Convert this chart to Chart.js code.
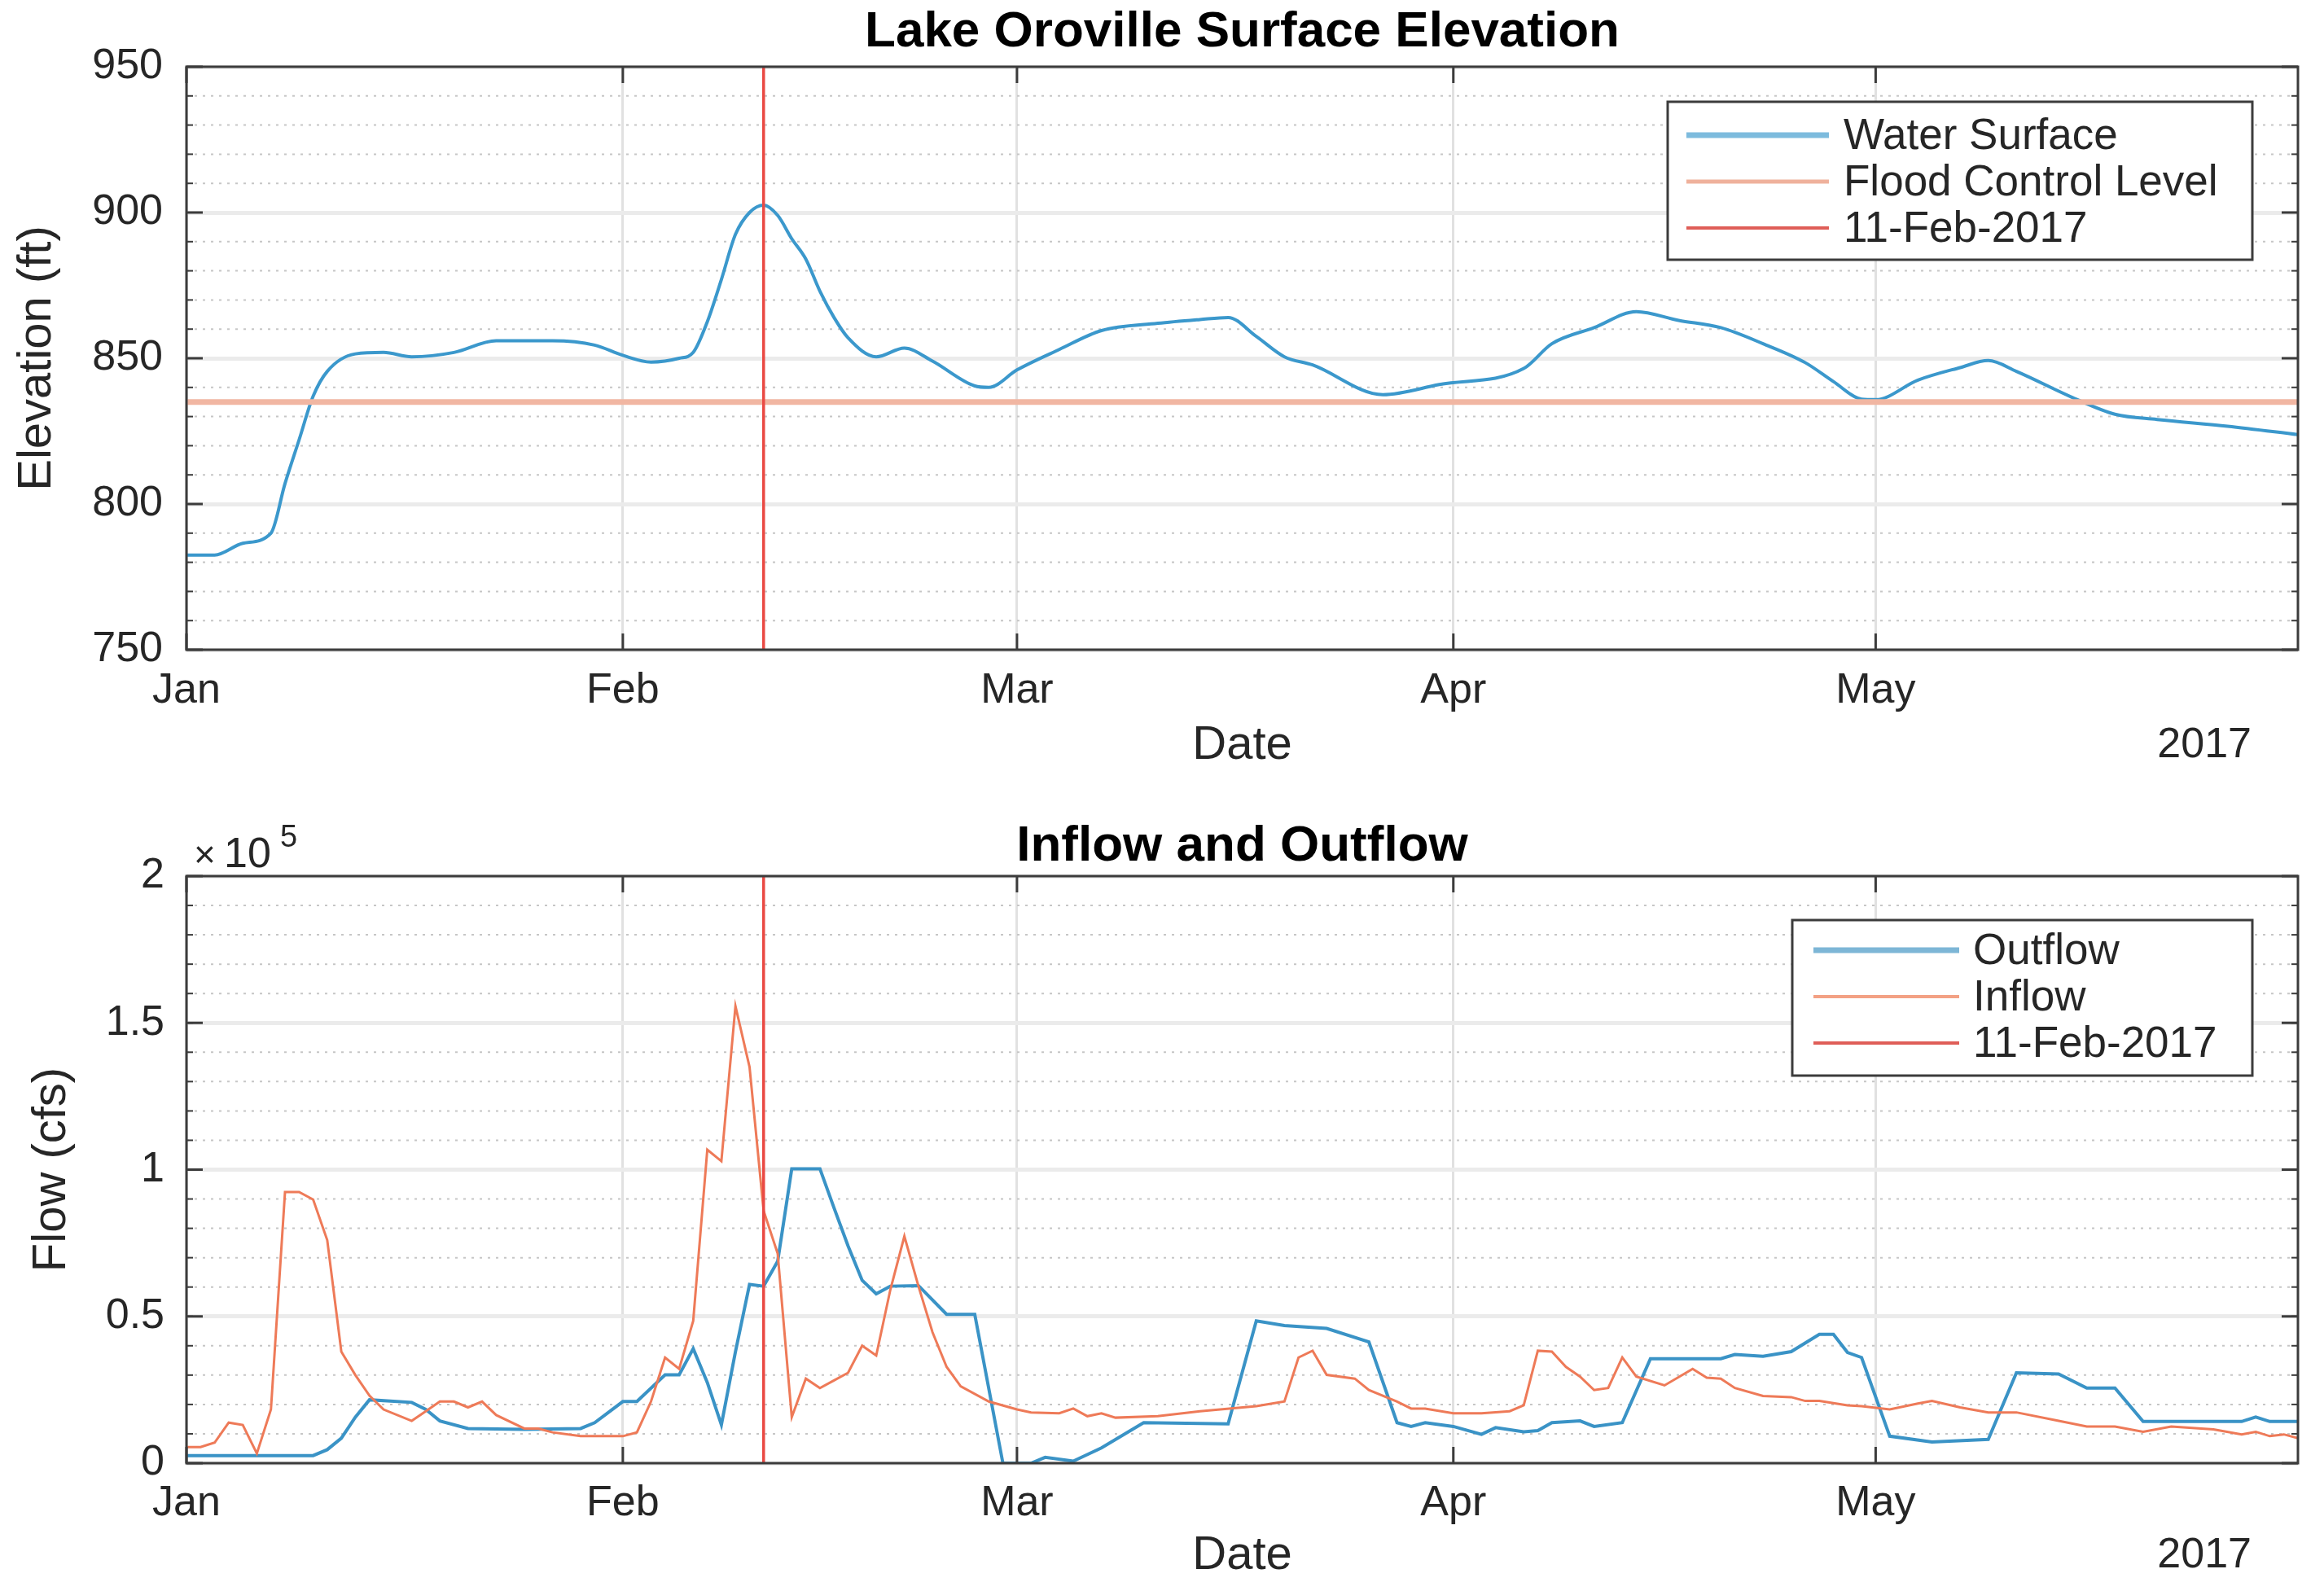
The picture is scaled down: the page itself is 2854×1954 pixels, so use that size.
<!DOCTYPE html>
<html>
<head>
<meta charset="utf-8">
<title>Lake Oroville Surface Elevation</title>
<script src="https://cdn.jsdelivr.net/npm/chart.js@4.4.1/dist/chart.umd.min.js"></script>
<style>
  html, body { margin: 0; padding: 0; background: #fff; }
  #wrap { position: relative; width: 2854px; height: 1954px; }
  canvas { position: absolute; left: 0; display: block; width: 2854px; height: 977px; }
  #elevChart { top: 0; }
  #flowChart { top: 977px; }
</style>
</head>
<body>
<div id="wrap">
  <canvas id="elevChart" width="2854" height="977"></canvas>
  <canvas id="flowChart" width="2854" height="977"></canvas>
</div>
<script>
// x values are days since 1 Jan 2017
const monthDays = [0, 31, 59, 90, 120];
const monthLabels = ['Jan', 'Feb', 'Mar', 'Apr', 'May'];
const elevTicks = [750, 800, 850, 900, 950];
const flowTicks = [0, 50000, 100000, 150000, 200000];
const flowTickLabels = ['0', '0.5', '1', '1.5', '2'];

const floodLevel = 835;
const eventDay = 41; // 11-Feb-2017

const elevDays = [0, 2, 4, 6, 7, 8, 9, 10, 12, 14, 16, 19, 22, 26, 29, 31, 33, 35, 36, 37,
  38, 39, 40, 41, 42, 43, 44, 45, 46, 47, 49, 51, 53, 56, 57, 59, 62, 65, 69, 72,
  74, 76, 78, 80, 85, 89, 95, 97, 100, 103, 106, 109, 112, 115, 117, 119, 120, 123, 126, 128,
  130, 134, 137, 140, 145, 150];
const elevValues = [782.5, 782.5, 786.5, 790, 807, 822, 837, 845.5, 851.5, 852, 850.5, 852, 856, 856, 854.5, 851, 848.7, 850, 852, 862.5,
  877, 892.5, 900, 902.5, 899, 891, 884, 873, 864, 857, 850.5, 853.5, 849, 840.5, 840, 846, 853, 859.5, 862, 863.3,
  864, 857.5, 850.5, 847.7, 837.5, 841, 846.5, 855, 860.5, 866, 863, 860.5, 855, 848.5, 842, 836, 835.8, 842.5, 846.8, 849.2,
  845.5, 836.5, 830.8, 829, 826.7, 823.8];

const inflowDays = [0, 1, 2, 3, 4, 5, 6, 7, 8, 9, 10, 11, 12, 13, 14, 16, 17, 18, 19, 20,
  21, 22, 24, 25, 26, 28, 31, 32, 33, 34, 35, 36, 37, 38, 39, 40, 41, 42, 43, 44,
  45, 46, 47, 48, 49, 50, 51, 52, 53, 54, 55, 57, 59, 60, 62, 63, 64, 65, 66, 69,
  72, 76, 78, 79, 80, 81, 83, 84, 86, 87, 88, 90, 92, 94, 95, 96, 97, 98, 99, 100,
  101, 102, 103, 105, 107, 108, 109, 110, 112, 114, 115, 116, 118, 119, 121, 123, 124, 126, 128, 130,
  133, 135, 137, 139, 141, 144, 146, 147, 148, 149, 150];
const inflowValues = [5500, 5500, 7000, 13800, 13000, 3300, 18300, 92400, 92400, 89800, 76000, 38000, 30000, 23000, 18300, 14400, 17700, 21000, 21000, 19000,
  21000, 16400, 11800, 11800, 10500, 9200, 9200, 10500, 21000, 36000, 32100, 48500, 106800, 102900, 155700, 135000, 86000, 71400, 15700, 28800,
  25600, 28200, 30800, 40000, 36700, 59000, 77300, 60300, 44600, 32800, 26200, 21000, 18300, 17300, 17000, 18600, 16000, 17000, 15500, 16000,
  17700, 19400, 21000, 36000, 38300, 30100, 28800, 24900, 21000, 18600, 18600, 17000, 17000, 17700, 19700, 38300, 38000, 32800, 29500, 24900,
  25600, 36000, 29500, 26500, 32100, 29100, 28800, 25600, 22900, 22500, 21200, 21200, 19700, 19400, 18300, 20300, 21200, 19000, 17300, 17300,
  14400, 12500, 12500, 10700, 12500, 11500, 9800, 10700, 9200, 9800, 8500];

const outflowDays = [0, 9, 10, 11, 12, 13, 16, 17, 18, 20, 24, 28, 29, 31, 32, 34, 35, 36, 37, 38,
  39, 40, 41, 42, 43, 45, 46, 47, 48, 49, 50, 52, 54, 56, 58, 60, 61, 63, 65, 68,
  74, 76, 78, 81, 84, 86, 87, 88, 90, 92, 93, 95, 96, 97, 99, 100, 102, 104, 109, 110,
  112, 114, 116, 117, 118, 119, 121, 124, 128, 130, 133, 135, 137, 139, 146, 147, 148, 150];
const outflowValues = [2600, 2600, 4600, 8500, 15700, 21600, 20700, 18300, 14400, 11800, 11500, 11800, 13800, 21000, 21000, 30100, 30100, 39000, 27500, 13100,
  38000, 60900, 60300, 68800, 100300, 100300, 87000, 74000, 62300, 57700, 60300, 60500, 50700, 50700, 0, 0, 2000, 700, 5200, 13800,
  13400, 48500, 46900, 45900, 41300, 13800, 12500, 13800, 12500, 9800, 12100, 10700, 11100, 13800, 14400, 12500, 13800, 35600, 35600, 37000,
  36400, 38000, 43900, 43900, 37700, 36000, 9200, 7200, 8100, 30800, 30400, 25600, 25600, 14200, 14200, 15700, 14200, 14200];

const FONT = "'Liberation Sans', Arial, Helvetica, sans-serif";
const INK = '#262626';
const AXIS = '#3c3c3c';

Chart.defaults.font.family = FONT;
Chart.defaults.color = INK;

function pts(days, values) {
  return days.map((d, i) => ({ x: d, y: values[i] }));
}

function line(ctx, x1, y1, x2, y2) {
  ctx.beginPath();
  ctx.moveTo(x1, y1);
  ctx.lineTo(x2, y2);
  ctx.stroke();
}

// MATLAB-ish axes: dotted minor grid, boxed axes with inward ticks, legend inside
const matlabAxes = {
  id: 'matlabAxes',
  beforeDatasetsDraw(chart, args, o) {
    const { ctx, chartArea: a } = chart;
    const y = chart.scales.y;
    const n = Math.round((y.max - y.min) / o.minorStep);
    const every = Math.round(o.majorStep / o.minorStep);
    ctx.save();
    ctx.strokeStyle = '#c6c6c6';
    ctx.lineWidth = 2;
    ctx.setLineDash([3, 7]);
    for (let i = 1; i < n; i++) {
      if (i % every === 0) continue;
      const py = y.getPixelForValue(y.min + i * o.minorStep);
      line(ctx, a.left, py, a.right, py);
    }
    ctx.restore();
  },
  afterDatasetsDraw(chart, args, o) {
    const { ctx, chartArea: a } = chart;
    const { x, y } = chart.scales;
    ctx.save();
    ctx.strokeStyle = AXIS;
    ctx.lineWidth = 3;
    ctx.strokeRect(a.left, a.top, a.right - a.left, a.bottom - a.top);
    x.ticks.forEach(t => {
      const px = x.getPixelForValue(t.value);
      line(ctx, px, a.bottom, px, a.bottom - 20);
      line(ctx, px, a.top, px, a.top + 20);
    });
    y.ticks.forEach(t => {
      const py = y.getPixelForValue(t.value);
      line(ctx, a.left, py, a.left + 20, py);
      line(ctx, a.right, py, a.right - 20, py);
    });
    // minor ticks
    ctx.lineWidth = 2;
    const n = Math.round((y.max - y.min) / o.minorStep);
    for (let i = 1; i < n; i++) {
      const py = y.getPixelForValue(y.min + i * o.minorStep);
      line(ctx, a.left, py, a.left + 8, py);
      line(ctx, a.right, py, a.right - 8, py);
    }
    ctx.restore();
  },
  afterDraw(chart, args, o) {
    const { ctx, chartArea: a } = chart;
    const lg = o.legend;
    ctx.save();
    ctx.fillStyle = '#fff';
    ctx.fillRect(lg.left, lg.top, lg.right - lg.left, lg.bottom - lg.top);
    ctx.strokeStyle = AXIS;
    ctx.lineWidth = 3;
    ctx.strokeRect(lg.left, lg.top, lg.right - lg.left, lg.bottom - lg.top);
    ctx.font = lg.fontSize + 'px ' + FONT;
    ctx.textBaseline = 'middle';
    ctx.textAlign = 'left';
    chart.data.datasets.forEach((ds, i) => {
      const yy = lg.rowTop + i * lg.rowGap;
      ctx.strokeStyle = ds.legendColor;
      ctx.lineWidth = ds.legendWidth;
      line(ctx, lg.lineStart, yy, lg.lineEnd, yy);
      ctx.fillStyle = INK;
      ctx.fillText(ds.label, lg.textX, yy + 2);
    });

    // year under the date axis
    ctx.font = '52px ' + FONT;
    ctx.textAlign = 'right';
    ctx.fillStyle = INK;
    ctx.fillText('2017', a.right - 57, a.bottom + o.yearOffset);

    if (o.exponent) {
      ctx.textAlign = 'left';
      ctx.textBaseline = 'alphabetic';
      ctx.font = '46px ' + FONT;
      ctx.fillText('\u00d7', a.left + 9, a.top - 11);
      ctx.font = '52px ' + FONT;
      ctx.fillText('10', a.left + 46, a.top - 11);
      ctx.font = '38px ' + FONT;
      ctx.fillText('5', a.left + 115, a.top - 36);
    }
    ctx.restore();
  }
};

function xScale(tickPad, titlePad, height) {
  return {
    type: 'linear',
    min: 0,
    max: 150,
    afterBuildTicks: s => { s.ticks = monthDays.map(v => ({ value: v })); },
    afterFit: s => { s.height = height; },
    ticks: {
      autoSkip: false,
      maxRotation: 0,
      padding: tickPad,
      font: { size: 52 },
      color: INK,
      callback: (v, i) => monthLabels[i]
    },
    grid: { color: '#e1e1e1', lineWidth: 3, drawTicks: false },
    border: { display: false },
    title: { display: true, text: 'Date', color: INK, font: { size: 58 }, padding: { top: 0, bottom: titlePad } }
  };
}

function yScale(ticks, labels, tickPad, title, titlePad) {
  return {
    min: ticks[0],
    max: ticks[ticks.length - 1],
    afterBuildTicks: s => { s.ticks = ticks.map(v => ({ value: v })); },
    afterFit: s => { s.width = 229; },
    ticks: {
      padding: tickPad,
      font: { size: 52 },
      color: INK,
      callback: (v, i) => labels[i]
    },
    grid: { color: '#ebebeb', lineWidth: 5, drawTicks: false },
    border: { display: false },
    title: { display: true, text: title, color: INK, font: { size: 58 }, padding: { top: titlePad, bottom: 0 } }
  };
}

const baseOptions = {
  responsive: false,
  animation: false,
  devicePixelRatio: 1,
  events: [],
  elements: { point: { radius: 0 }, line: { tension: 0 } }
};

// Top panel: surface elevation
new Chart(document.getElementById('elevChart'), {
  type: 'line',
  data: {
    datasets: [
      {
        label: 'Water Surface',
        data: pts(elevDays, elevValues),
        borderColor: '#3b98cc',
        borderWidth: 4,
        cubicInterpolationMode: 'monotone',
        order: 3,
        legendColor: '#7dbbdd',
        legendWidth: 7
      },
      {
        label: 'Flood Control Level',
        data: [{ x: 0, y: floodLevel }, { x: 150, y: floodLevel }],
        borderColor: '#f1b6a2',
        borderWidth: 7,
        order: 2,
        legendColor: '#efb19c',
        legendWidth: 5
      },
      {
        label: '11-Feb-2017',
        data: [{ x: eventDay, y: elevTicks[0] }, { x: eventDay, y: elevTicks[elevTicks.length - 1] }],
        borderColor: '#ea4a44',
        borderWidth: 3.5,
        order: 1,
        legendColor: '#df5e58',
        legendWidth: 4
      }
    ]
  },
  options: Object.assign({}, baseOptions, {
    layout: { padding: { left: 0, right: 32, top: 0, bottom: 0 } },
    plugins: {
      legend: { display: false },
      tooltip: { enabled: false },
      title: {
        display: true,
        fullSize: false,
        text: 'Lake Oroville Surface Elevation',
        color: '#000',
        font: { size: 62, weight: 'bold', lineHeight: 1 },
        padding: { top: 9, bottom: 11 }
      },
      matlabAxes: {
        minorStep: 10,
        majorStep: 50,
        yearOffset: 118,
        exponent: false,
        legend: { left: 2048, top: 125, right: 2766, bottom: 319, rowTop: 166, rowGap: 57,
                  lineStart: 2071, lineEnd: 2246, textX: 2264, fontSize: 53 }
      }
    },
    scales: {
      x: xScale(19, 26, 179),
      y: yScale(elevTicks, elevTicks.map(String), 29, 'Elevation (ft)', 11)
    }
  }),
  plugins: [matlabAxes]
});

// Bottom panel: inflow and outflow
new Chart(document.getElementById('flowChart'), {
  type: 'line',
  data: {
    datasets: [
      {
        label: 'Outflow',
        data: pts(outflowDays, outflowValues),
        borderColor: '#3a93c6',
        borderWidth: 4,
        order: 3,
        legendColor: '#7db6d6',
        legendWidth: 7
      },
      {
        label: 'Inflow',
        data: pts(inflowDays, inflowValues),
        borderColor: '#ee7a58',
        borderWidth: 3,
        order: 2,
        legendColor: '#f3a184',
        legendWidth: 4
      },
      {
        label: '11-Feb-2017',
        data: [{ x: eventDay, y: flowTicks[0] }, { x: eventDay, y: flowTicks[flowTicks.length - 1] }],
        borderColor: '#ea4a44',
        borderWidth: 3.5,
        order: 1,
        legendColor: '#df5e58',
        legendWidth: 4
      }
    ]
  },
  options: Object.assign({}, baseOptions, {
    layout: { padding: { left: 0, right: 32, top: 0, bottom: 0 } },
    plugins: {
      legend: { display: false },
      tooltip: { enabled: false },
      title: {
        display: true,
        fullSize: false,
        text: 'Inflow and Outflow',
        color: '#000',
        font: { size: 62, weight: 'bold', lineHeight: 1 },
        padding: { top: 32, bottom: 5 }
      },
      matlabAxes: {
        minorStep: 10000,
        majorStep: 50000,
        yearOffset: 114,
        exponent: true,
        legend: { left: 2201, top: 153, right: 2766, bottom: 344, rowTop: 190, rowGap: 57,
                  lineStart: 2227, lineEnd: 2406, textX: 2423, fontSize: 53 }
      }
    },
    scales: {
      x: xScale(18, 8, 157),
      y: yScale(flowTicks, flowTickLabels, 27, 'Flow (cfs)', 29)
    }
  }),
  plugins: [matlabAxes]
});
</script>
</body>
</html>
